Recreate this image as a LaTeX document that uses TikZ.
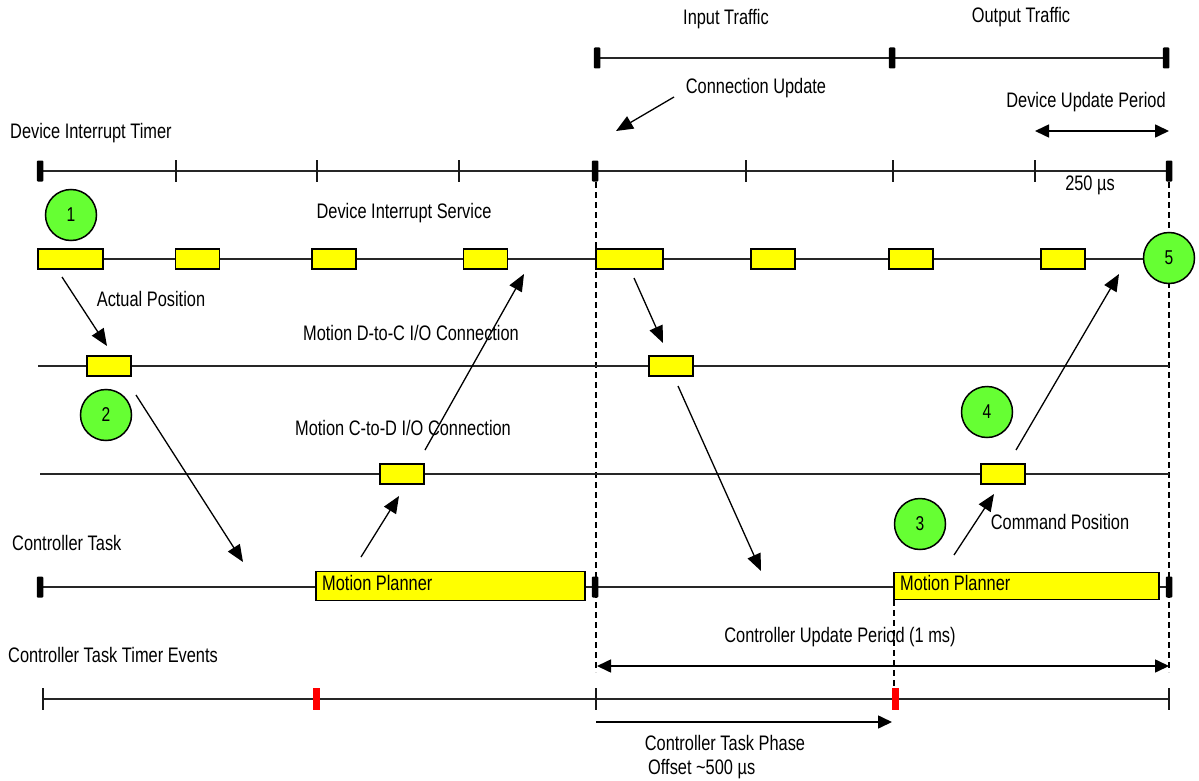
\documentclass[tikz,border=0pt]{standalone}
\usepackage{fontspec}
\setmainfont[FakeStretch=0.78]{Liberation Sans}
\usetikzlibrary{arrows.meta,shapes.geometric}
\definecolor{numgreen}{HTML}{66FF33}
\definecolor{boxyellow}{HTML}{FFFF00}
\definecolor{evred}{HTML}{FF0000}
\begin{document}
\begin{tikzpicture}[x=1pt,y=-1pt,
  track/.style={line width=1.6pt, draw=black!85},
  thintick/.style={line width=1.3pt, draw=black!90},
  bar/.style={fill=black, draw=none, rounded corners=1pt, minimum width=6.5pt, minimum height=21pt, inner sep=0pt},
  redbar/.style={fill=evred, draw=none, minimum width=7pt, minimum height=22pt, inner sep=0pt},
  ybox/.style={draw, line width=1.6pt, fill=boxyellow, minimum width=44pt, minimum height=20pt, inner sep=0pt},
  numc/.style={circle, draw, line width=1.5pt, fill=numgreen, minimum size=51pt, inner sep=0pt, font=\fontsize{20}{24}\selectfont},
  lbl/.style={font=\fontsize{21}{25}\selectfont, inner sep=0pt},
  arr/.style={line width=1.3pt, -{Triangle[length=17pt,width=14pt]}},
  darr/.style={line width=1.6pt, {Triangle[length=14pt,width=13pt]}-{Triangle[length=14pt,width=13pt]}},
  vdash/.style={line width=1.2pt, dash pattern=on 6pt off 4pt}
]
\useasboundingbox (0,0) rectangle (1199,781);

% ---------- coordinates for lines ----------
\coordinate (tr-l) at (597,58);  \coordinate (tr-r) at (1166,58);
\coordinate (tm-l) at (40,171);  \coordinate (tm-r) at (1169,171);
\coordinate (ds-l) at (38,259);  \coordinate (ds-r) at (1150,259);
\coordinate (dc-l) at (38,366);  \coordinate (dc-r) at (1169,366);
\coordinate (cd-l) at (40,474);  \coordinate (cd-r) at (1169,474);
\coordinate (ct-l) at (40,587);  \coordinate (ct-r) at (1169,587);
\coordinate (te-l) at (43,699);  \coordinate (te-r) at (1169,699);

% dashed verticals
\coordinate (d1t) at (596,182); \coordinate (d1b) at (596,672);
\coordinate (d2t) at (1169,182); \coordinate (d2b) at (1169,672);
\coordinate (d3t) at (894,600); \coordinate (d3b) at (894,690);
\draw[vdash] (d1t) -- (d1b);
\draw[vdash] (d2t) -- (d2b);
\draw[vdash] (d3t) -- (d3b);

% tracks
\draw[track] (tr-l) -- (tr-r);
\draw[track] (tm-l) -- (tm-r);
\draw[track] (ds-l) -- (ds-r);
\draw[track] (dc-l) -- (dc-r);
\draw[track] (cd-l) -- (cd-r);
\draw[track] (ct-l) -- (ct-r);
\draw[track] (te-l) -- (te-r);

% ---------- traffic marks ----------
\node[bar] (tb1) at (597,58) {};
\node[bar] (tb2) at (892,58) {};
\node[bar] (tb3) at (1166,58) {};

% ---------- timer marks ----------
\node[bar] (tmb1) at (40,171) {};
\node[bar] (tmb2) at (595,171) {};
\node[bar] (tmb3) at (1169,171) {};
\foreach \x/\n in {176/a,317/b,459/c,746/d,893/e,1035/f}{
  \coordinate (tk\n t) at (\x,160); \coordinate (tk\n b) at (\x,182);
  \draw[thintick] (tk\n t) -- (tk\n b);
}

% ---------- controller task marks ----------
\node[bar] (ctb1) at (40,587) {};
\node[bar] (ctb2) at (595,587) {};
\node[bar] (ctb3) at (1169,587) {};

% ---------- timer events ----------
\foreach \x/\n in {43/a,596/b,1169/c}{
  \coordinate (ev\n t) at (\x,688); \coordinate (ev\n b) at (\x,710);
  \draw[thintick] (ev\n t) -- (ev\n b);
}
\node[redbar] (red1) at (316,699) {};
\node[redbar] (red2) at (895,699) {};

% ---------- device interrupt service boxes ----------
\node[ybox, minimum width=65pt] (s1) at (70.5,259) {};
\node[ybox] (s2) at (197.5,259) {};
\node[ybox] (s3) at (334,259) {};
\node[ybox] (s4) at (485.5,259) {};
\node[ybox, minimum width=67pt] (s5) at (629.5,259) {};
\node[ybox] (s6) at (773,259) {};
\node[ybox] (s7) at (911,259) {};
\node[ybox] (s8) at (1063,259) {};

% D-to-C boxes
\node[ybox] (dcb1) at (109,366) {};
\node[ybox] (dcb2) at (671,366) {};
% C-to-D boxes
\node[ybox] (cdb1) at (402,474) {};
\node[ybox] (cdb2) at (1003,474) {};

% Motion planner boxes
\node[ybox, minimum width=269pt, minimum height=29pt] (mp1) at (450.5,586) {};
\node[lbl, anchor=west] (mp1t) at (322,583) {Motion Planner};
\node[ybox, minimum width=265pt, minimum height=27pt] (mp2) at (1026.5,586) {};
\node[lbl, anchor=west] (mp2t) at (900,583) {Motion Planner};

% ---------- numbered circles ----------
\node[numc] (n1) at (71,215) {1};
\node[numc] (n2) at (106,415) {2};
\node[numc] (n3) at (920,524) {3};
\node[numc] (n4) at (987,412) {4};
\node[numc] (n5) at (1169,258) {5};

% ---------- labels ----------
\node[lbl] (l-in) at (726,19) {Input Traffic};
\node[lbl] (l-out) at (1021,17) {Output Traffic};
\node[lbl] (l-cu) at (756,88) {Connection Update};
\node[lbl] (l-dup) at (1086,102) {Device Update Period};
\node[lbl, anchor=west] (l-dit) at (10,133) {Device Interrupt Timer};
\node[lbl] (l-250) at (1090,185) {250 µs};
\node[lbl] (l-dis) at (404,213) {Device Interrupt Service};
\node[lbl] (l-ap) at (151,299) {Actual Position};
\node[lbl] (l-dc) at (411,333) {Motion D-to-C I/O Connection};
\node[lbl] (l-cd) at (403,428) {Motion C-to-D I/O Connection};
\node[lbl] (l-cp) at (1060,522) {Command Position};
\node[lbl, anchor=west] (l-ct) at (12,543) {Controller Task};
\node[lbl] (l-cup) at (840,637) {Controller Update Period (1 ms)};
\node[lbl, anchor=west] (l-cte) at (8,655) {Controller Task Timer Events};
\node[lbl] (l-ctp) at (725,743) {Controller Task Phase};
\node[lbl, anchor=west] (l-off) at (648,769) {Offset \textasciitilde500 µs};

% ---------- arrows ----------
\coordinate (a1s) at (62,277);   \coordinate (a1e) at (107,346);
\coordinate (a2s) at (136,395);  \coordinate (a2e) at (243,562);
\coordinate (a3s) at (361,557);  \coordinate (a3e) at (399,496);
\coordinate (a4s) at (425,450);  \coordinate (a4e) at (524,274);
\coordinate (a5s) at (674,97);   \coordinate (a5e) at (616,131);
\coordinate (a6s) at (634,278);  \coordinate (a6e) at (663,343);
\coordinate (a7s) at (678,386);  \coordinate (a7e) at (761,571);
\coordinate (a8s) at (954,555);  \coordinate (a8e) at (994,494);
\coordinate (a9s) at (1016,450); \coordinate (a9e) at (1119,274);
\draw[arr] (a1s) -- (a1e);
\draw[arr] (a2s) -- (a2e);
\draw[arr] (a3s) -- (a3e);
\draw[arr] (a4s) -- (a4e);
\draw[arr] (a5s) -- (a5e);
\draw[arr] (a6s) -- (a6e);
\draw[arr] (a7s) -- (a7e);
\draw[arr] (a8s) -- (a8e);
\draw[arr] (a9s) -- (a9e);

\coordinate (dupl) at (1035,131); \coordinate (dupr) at (1169,131);
\draw[darr] (dupl) -- (dupr);
\coordinate (cupl) at (597,666); \coordinate (cupr) at (1169,666);
\draw[darr] (cupl) -- (cupr);
\coordinate (phl) at (596,722); \coordinate (phr) at (892,722);
\draw[line width=1.6pt, -{Triangle[length=14pt,width=13pt]}] (phl) -- (phr);
\end{tikzpicture}
\end{document}
